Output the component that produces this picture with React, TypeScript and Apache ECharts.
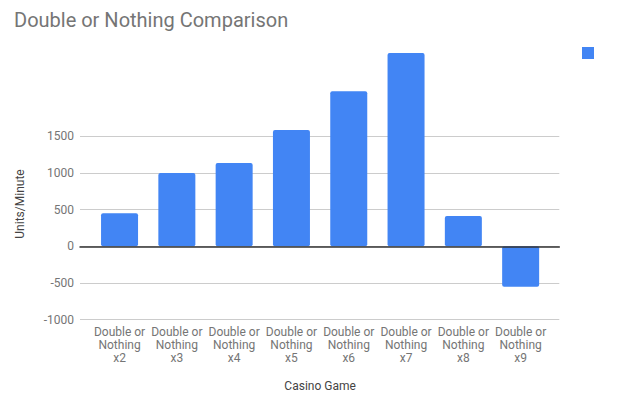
import React, { useEffect, useRef } from "react";
import * as echarts from "echarts";

const categories = [
  "Double or\nNothing\nx2",
  "Double or\nNothing\nx3",
  "Double or\nNothing\nx4",
  "Double or\nNothing\nx5",
  "Double or\nNothing\nx6",
  "Double or\nNothing\nx7",
  "Double or\nNothing\nx8",
  "Double or\nNothing\nx9",
];
const unitsPerMinute = [450, 1000, 1135, 1585, 2115, 2635, 415, -550];
const yTickMin = -1000;
const yTickMax = 1500;
const yTickStep = 500;
const yScaleMax = 2700;

const FONT = "Roboto, Arial, sans-serif";

export default function App() {
  const ref = useRef<HTMLDivElement>(null);
  useEffect(() => {
    if (!ref.current) return;
    const chart = echarts.init(ref.current, undefined, { renderer: "svg" });
    chart.setOption({
      animation: false,
      backgroundColor: "#ffffff",
      textStyle: { fontFamily: FONT },
      title: {
        text: "Double or Nothing Comparison",
        left: 9,
        top: 5,
        textStyle: { fontFamily: FONT, fontSize: 20, fontWeight: "normal", color: "#757575" },
      },
      legend: {
        show: true,
        left: 582,
        top: 47,
        padding: 0,
        icon: "rect",
        itemWidth: 12,
        itemHeight: 12,
        itemGap: 0,
        formatter: () => "",
        textStyle: { fontSize: 1, padding: 0 },
        data: ["Units/Minute"],
      },
      grid: [
        { left: 90.9, right: 74.7, top: 48.3, bottom: 88.3, containLabel: false },
        { left: 80, right: 64.7, top: 136.3, bottom: 88.3, containLabel: false },
      ],
      xAxis: [
        {
          type: "category",
          gridIndex: 0,
          data: categories,
          axisLine: { show: false },
          axisTick: { show: false },
          splitLine: { show: false },
          axisLabel: {
            interval: 0,
            margin: 6,
            fontSize: 12,
            lineHeight: 13,
            color: "#757575",
            fontFamily: FONT,
            align: "center",
          },
          name: "Casino Game",
          nameLocation: "middle",
          nameGap: 60,
          nameTextStyle: { fontSize: 12, color: "#444444", fontFamily: FONT },
        },
        {
          type: "value",
          gridIndex: 1,
          min: 0,
          max: 1,
          axisLine: { show: true, onZero: true, lineStyle: { color: "#333333", width: 1.5 } },
          axisTick: { show: false },
          axisLabel: { show: false },
          splitLine: { show: false },
          z: 5,
        },
      ],
      yAxis: [
        {
          type: "value",
          gridIndex: 0,
          min: yTickMin,
          max: yScaleMax,
          show: false,
          splitLine: { show: false },
        },
        {
          type: "value",
          gridIndex: 1,
          min: yTickMin,
          max: yTickMax,
          interval: yTickStep,
          axisLine: { show: false },
          axisTick: { show: false },
          axisLabel: {
            margin: 6,
            fontSize: 12,
            color: "#757575",
            fontFamily: FONT,
            formatter: (v: number) => String(v),
          },
          splitLine: { show: true, lineStyle: { color: "#cccccc", width: 1 } },
        },
      ],
      graphic: [
        {
          type: "text",
          x: 20,
          y: 204,
          rotation: Math.PI / 2,
          style: {
            text: "Units/Minute",
            fontSize: 12,
            fontFamily: FONT,
            fill: "#444444",
            align: "center",
            verticalAlign: "middle",
          },
        },
      ],
      series: [
        {
          name: "Units/Minute",
          type: "bar",
          xAxisIndex: 0,
          yAxisIndex: 0,
          data: unitsPerMinute,
          barWidth: 37,
          itemStyle: { color: "#4285F4", borderRadius: 2 },
          z: 2,
        },
      ],
    });
    return () => chart.dispose();
  }, []);
  return (
    <div
      ref={ref}
      style={{ position: "fixed", left: 0, top: 0, width: 624, height: 408 }}
    />
  );
}
